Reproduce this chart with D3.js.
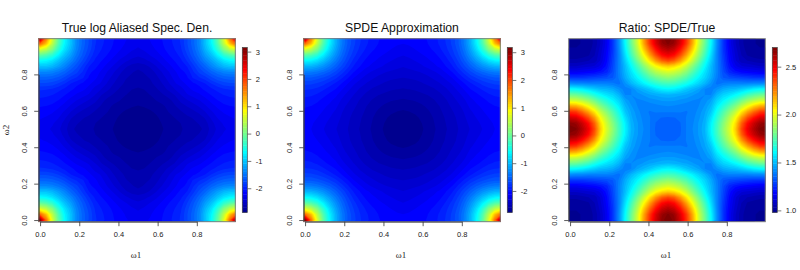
<!DOCTYPE html>
<html>
<head>
<meta charset="utf-8">
<script src="https://cdnjs.cloudflare.com/ajax/libs/d3/7.8.5/d3.min.js"></script>
<style>
body{margin:0;background:#fff;}
text{font-family:"Liberation Sans",Arial,sans-serif;fill:#222;}
.title{font-size:12.2px;fill:#111;}
.tick text{font-size:7.5px;}
.omega{font-size:9px;font-family:"Liberation Serif",serif;}
#chart>g{opacity:0.999;}
</style>
</head>
<body>
<svg id="chart" width="800" height="270"></svg>
<script>
//values at every 1/32 of the lower left quarter, rows go up in omega2
//the other three quarters of each panel are the same picture mirrored
var trueRows = [
[3.1,1.75,.65,-.1,-.65,-1.02,-1.38,-1.6,-1.76,-1.92,-2.0,-2.06,-2.12,-2.17,-2.21,-2.24,-2.26],
[1.75,1.2,.45,-.2,-.7,-1.02,-1.38,-1.6,-1.76,-1.93,-2.01,-2.07,-2.13,-2.18,-2.23,-2.26,-2.29],
[.65,.45,.1,-.4,-.82,-1.1,-1.42,-1.63,-1.79,-1.95,-2.03,-2.09,-2.15,-2.21,-2.26,-2.3,-2.33],
[-.1,-.2,-.4,-.72,-1.02,-1.24,-1.5,-1.68,-1.85,-2.0,-2.07,-2.13,-2.2,-2.26,-2.31,-2.36,-2.39],
[-.65,-.7,-.82,-1.02,-1.22,-1.4,-1.6,-1.77,-1.93,-2.05,-2.12,-2.19,-2.26,-2.33,-2.39,-2.44,-2.46],
[-1.02,-1.02,-1.1,-1.24,-1.4,-1.58,-1.72,-1.88,-2.03,-2.1,-2.18,-2.26,-2.33,-2.41,-2.49,-2.54,-2.57],
[-1.38,-1.38,-1.42,-1.5,-1.6,-1.72,-1.82,-1.95,-2.1,-2.16,-2.24,-2.32,-2.4,-2.48,-2.55,-2.59,-2.62],
[-1.6,-1.6,-1.63,-1.68,-1.77,-1.88,-1.95,-2.02,-2.14,-2.2,-2.28,-2.37,-2.45,-2.53,-2.59,-2.62,-2.65],
[-1.76,-1.76,-1.79,-1.85,-1.93,-2.03,-2.1,-2.14,-2.2,-2.26,-2.33,-2.42,-2.5,-2.56,-2.62,-2.65,-2.67],
[-1.92,-1.93,-1.95,-2.0,-2.05,-2.1,-2.16,-2.2,-2.26,-2.36,-2.41,-2.48,-2.55,-2.61,-2.66,-2.69,-2.7],
[-2.0,-2.01,-2.03,-2.07,-2.12,-2.18,-2.24,-2.28,-2.33,-2.41,-2.5,-2.56,-2.61,-2.65,-2.69,-2.72,-2.73],
[-2.06,-2.07,-2.09,-2.13,-2.19,-2.26,-2.32,-2.37,-2.42,-2.48,-2.56,-2.63,-2.66,-2.69,-2.73,-2.75,-2.76],
[-2.12,-2.13,-2.15,-2.2,-2.26,-2.33,-2.4,-2.45,-2.5,-2.55,-2.61,-2.66,-2.71,-2.73,-2.76,-2.78,-2.79],
[-2.17,-2.18,-2.21,-2.26,-2.33,-2.41,-2.48,-2.53,-2.56,-2.61,-2.65,-2.69,-2.73,-2.77,-2.8,-2.81,-2.82],
[-2.21,-2.23,-2.26,-2.31,-2.39,-2.49,-2.55,-2.59,-2.62,-2.66,-2.69,-2.73,-2.76,-2.8,-2.83,-2.84,-2.85],
[-2.24,-2.26,-2.3,-2.36,-2.44,-2.54,-2.59,-2.62,-2.65,-2.69,-2.72,-2.75,-2.78,-2.81,-2.84,-2.86,-2.87],
[-2.26,-2.29,-2.33,-2.39,-2.46,-2.57,-2.62,-2.65,-2.67,-2.7,-2.73,-2.76,-2.79,-2.82,-2.85,-2.87,-2.88]
];
var spdeRows = [
[3.15,1.75,.7,-.05,-.6,-1.02,-1.35,-1.58,-1.72,-1.83,-1.91,-1.97,-2.02,-2.05,-2.08,-2.09,-2.1],
[1.75,1.25,.5,-.15,-.65,-1.04,-1.36,-1.58,-1.73,-1.84,-1.92,-1.98,-2.03,-2.06,-2.09,-2.11,-2.12],
[.7,.5,.15,-.35,-.78,-1.12,-1.41,-1.62,-1.76,-1.87,-1.95,-2.01,-2.06,-2.09,-2.12,-2.14,-2.16],
[-.05,-.15,-.35,-.67,-.97,-1.24,-1.48,-1.67,-1.81,-1.92,-2.0,-2.06,-2.1,-2.13,-2.16,-2.19,-2.21],
[-.6,-.65,-.78,-.97,-1.17,-1.38,-1.57,-1.74,-1.88,-1.98,-2.05,-2.1,-2.14,-2.18,-2.21,-2.24,-2.26],
[-1.02,-1.04,-1.12,-1.24,-1.38,-1.53,-1.68,-1.82,-1.95,-2.03,-2.1,-2.15,-2.19,-2.23,-2.26,-2.28,-2.3],
[-1.35,-1.36,-1.41,-1.48,-1.57,-1.68,-1.8,-1.92,-2.03,-2.11,-2.18,-2.23,-2.27,-2.3,-2.32,-2.34,-2.35],
[-1.58,-1.58,-1.62,-1.67,-1.74,-1.82,-1.92,-2.02,-2.12,-2.19,-2.25,-2.29,-2.33,-2.36,-2.38,-2.39,-2.4],
[-1.72,-1.73,-1.76,-1.81,-1.88,-1.95,-2.03,-2.12,-2.2,-2.26,-2.31,-2.35,-2.38,-2.41,-2.43,-2.44,-2.45],
[-1.83,-1.84,-1.87,-1.92,-1.98,-2.03,-2.11,-2.19,-2.26,-2.32,-2.37,-2.41,-2.44,-2.46,-2.48,-2.49,-2.5],
[-1.91,-1.92,-1.95,-2.0,-2.05,-2.1,-2.18,-2.25,-2.31,-2.37,-2.42,-2.46,-2.49,-2.51,-2.53,-2.54,-2.55],
[-1.97,-1.98,-2.01,-2.06,-2.1,-2.15,-2.23,-2.29,-2.35,-2.41,-2.46,-2.5,-2.53,-2.56,-2.58,-2.59,-2.6],
[-2.02,-2.03,-2.06,-2.1,-2.14,-2.19,-2.27,-2.33,-2.38,-2.44,-2.49,-2.53,-2.57,-2.6,-2.62,-2.64,-2.65],
[-2.05,-2.06,-2.09,-2.13,-2.18,-2.23,-2.3,-2.36,-2.41,-2.46,-2.51,-2.56,-2.6,-2.64,-2.66,-2.68,-2.69],
[-2.08,-2.09,-2.12,-2.16,-2.21,-2.26,-2.32,-2.38,-2.43,-2.48,-2.53,-2.58,-2.62,-2.66,-2.7,-2.72,-2.73],
[-2.09,-2.11,-2.14,-2.19,-2.24,-2.28,-2.34,-2.39,-2.44,-2.49,-2.54,-2.59,-2.64,-2.68,-2.72,-2.75,-2.76],
[-2.1,-2.12,-2.16,-2.21,-2.26,-2.3,-2.35,-2.4,-2.45,-2.5,-2.55,-2.6,-2.65,-2.69,-2.73,-2.76,-2.77]
];
var ratioRows = [
[1.0,1.0,1.01,1.02,1.04,1.09,1.16,1.27,1.42,1.62,1.8,1.97,2.2,2.4,2.55,2.66,2.7],
[1.0,1.0,1.01,1.02,1.04,1.09,1.16,1.27,1.42,1.61,1.79,1.96,2.18,2.38,2.53,2.64,2.68],
[1.01,1.01,1.01,1.02,1.05,1.1,1.17,1.27,1.41,1.59,1.76,1.92,2.12,2.3,2.45,2.56,2.6],
[1.02,1.02,1.02,1.03,1.06,1.11,1.18,1.28,1.4,1.56,1.72,1.87,2.03,2.2,2.35,2.46,2.5],
[1.04,1.04,1.05,1.06,1.07,1.12,1.19,1.29,1.4,1.53,1.66,1.8,1.94,2.08,2.21,2.31,2.35],
[1.09,1.09,1.1,1.11,1.12,1.15,1.21,1.3,1.4,1.5,1.61,1.72,1.83,1.94,2.03,2.09,2.12],
[1.16,1.16,1.17,1.18,1.19,1.21,1.24,1.31,1.4,1.49,1.57,1.66,1.75,1.84,1.91,1.95,1.97],
[1.27,1.27,1.27,1.28,1.29,1.3,1.31,1.33,1.39,1.47,1.54,1.6,1.67,1.74,1.79,1.83,1.85],
[1.42,1.41,1.41,1.4,1.4,1.4,1.4,1.39,1.37,1.43,1.49,1.54,1.59,1.64,1.68,1.71,1.72],
[1.62,1.61,1.59,1.56,1.53,1.5,1.49,1.47,1.43,1.395,1.41,1.46,1.49,1.52,1.56,1.59,1.6],
[1.8,1.79,1.76,1.72,1.66,1.61,1.57,1.54,1.49,1.41,1.41,1.42,1.44,1.46,1.47,1.48,1.49],
[1.97,1.96,1.92,1.87,1.8,1.72,1.66,1.6,1.54,1.46,1.42,1.405,1.41,1.42,1.43,1.44,1.44],
[2.2,2.18,2.12,2.03,1.94,1.83,1.75,1.67,1.59,1.49,1.44,1.41,1.39,1.395,1.4,1.405,1.41],
[2.4,2.38,2.3,2.2,2.08,1.94,1.84,1.74,1.64,1.52,1.46,1.42,1.395,1.38,1.385,1.385,1.385],
[2.55,2.53,2.45,2.35,2.21,2.03,1.91,1.79,1.68,1.56,1.47,1.43,1.4,1.385,1.362,1.355,1.352],
[2.66,2.64,2.56,2.46,2.31,2.09,1.95,1.83,1.71,1.59,1.48,1.44,1.405,1.385,1.355,1.345,1.34],
[2.7,2.68,2.6,2.5,2.35,2.12,1.97,1.85,1.72,1.6,1.49,1.44,1.41,1.385,1.352,1.34,1.33]
];

var panelTitles = ["True log Aliased Spec. Den.","SPDE Approximation","Ratio: SPDE/True"];
var panelRanges = [[-2.88,3.15],[-2.77,3.17],[0.98,2.70]];
var omegaTicks = [0,0.2,0.4,0.6,0.8];
var logTicks = [-2,-1,0,1,2,3];
var ratioTicks = [1.0,1.5,2.0,2.5];

var timColors = ["#00008F","#00009F","#0000AF","#0000BF","#0000CF","#0000DF","#0000EF","#0000FF",
"#0010FF","#0020FF","#0030FF","#0040FF","#0050FF","#0060FF","#0070FF","#0080FF",
"#008FFF","#009FFF","#00AFFF","#00BFFF","#00CFFF","#00DFFF","#00EFFF","#00FFFF",
"#10FFEF","#20FFDF","#30FFCF","#40FFBF","#50FFAF","#60FF9F","#70FF8F","#80FF80",
"#8FFF70","#9FFF60","#AFFF50","#BFFF40","#CFFF30","#DFFF20","#EFFF10","#FFFF00",
"#FFEF00","#FFDF00","#FFCF00","#FFBF00","#FFAF00","#FF9F00","#FF8F00","#FF8000",
"#FF7000","#FF6000","#FF5000","#FF4000","#FF3000","#FF2000","#FF1000","#FF0000",
"#EF0000","#DF0000","#CF0000","#BF0000","#AF0000","#9F0000","#8F0000","#800000"];

//turns a quarter into the whole square, returned flat with omega2 going up
var mirrorRows = function(rows)
{
    var whole = rows.concat(rows.slice(0,-1).reverse());
    var flat = [];
    whole.forEach(function(row)
    {
        row.concat(row.slice(0,-1).reverse()).forEach(function(v){flat.push(v);});
    });
    return flat;
}

var drawImage = function(target,id,rows,range,xScale,yScale)
{
    var size = rows.length*2-1;
    var values = mirrorRows(rows);
    var step = (range[1]-range[0])/timColors.length;
    var levels = timColors.map(function(c,i){return range[0]+i*step;});
    levels[0] = d3.min(values)-1;

    var contours = d3.contours().size([size,size]).thresholds(levels)(values);

    //contour coordinates are in grid cells, value i sits at i+0.5
    var path = d3.geoPath(d3.geoTransform({point:function(x,y)
    {
        this.stream.point(xScale((x-0.5)/(size-1)),yScale((y-0.5)/(size-1)));
    }}));

    target.append("clipPath").attr("id",id)
        .append("rect")
        .attr("x",xScale.range()[0])
        .attr("y",yScale.range()[1])
        .attr("width",xScale.range()[1]-xScale.range()[0])
        .attr("height",yScale.range()[0]-yScale.range()[1]);

    target.append("g")
        .attr("clip-path","url(#"+id+")")
        .selectAll("path")
        .data(contours)
        .enter()
        .append("path")
        .attr("d",path)
        .attr("fill",function(d,i){return timColors[i];});

    target.append("rect")
        .attr("x",xScale.range()[0])
        .attr("y",yScale.range()[1])
        .attr("width",xScale.range()[1]-xScale.range()[0])
        .attr("height",yScale.range()[0]-yScale.range()[1])
        .attr("fill","none")
        .attr("stroke","#808080")
        .attr("stroke-width",1);
}

var styleAxis = function(g)
{
    g.selectAll("path").attr("stroke","#333").attr("stroke-width",0.8);
    g.selectAll("line").attr("stroke","#333").attr("stroke-width",0.8);
}

var drawAxes = function(target,xScale,yScale,showY)
{
    //R only runs the axis line between the first and the last tick
    var xAxisScale = d3.scaleLinear().domain([0,0.8]).range([xScale(0),xScale(0.8)]);
    var yAxisScale = d3.scaleLinear().domain([0,0.8]).range([yScale(0),yScale(0.8)]);

    target.append("g")
        .attr("transform","translate(0,"+yScale.range()[0]+")")
        .call(d3.axisBottom(xAxisScale).tickValues(omegaTicks)
            .tickFormat(d3.format(".1f")).tickSize(4.5).tickSizeOuter(0).tickPadding(5))
        .call(styleAxis);

    var yAxis = target.append("g")
        .attr("transform","translate("+xScale.range()[0]+",0)")
        .call(d3.axisLeft(yAxisScale).tickValues(omegaTicks)
            .tickFormat(d3.format(".1f")).tickSize(4.5).tickSizeOuter(0).tickPadding(5))
        .call(styleAxis);

    yAxis.selectAll(".tick text")
        .attr("transform","rotate(-90)")
        .attr("text-anchor","middle")
        .attr("x",0)
        .attr("y",-12)
        .attr("dy",0);

    target.append("text")
        .classed("omega",true)
        .attr("text-anchor","middle")
        .attr("x",(xScale.range()[0]+xScale.range()[1])/2-1)
        .attr("y",258)
        .text("\u03c91");

    if(showY)
    {
        target.append("g")
            .attr("transform","translate(9,130)")
            .append("text")
            .classed("omega",true)
            .attr("text-anchor","middle")
            .attr("transform","rotate(270)")
            .text("\u03c92");
    }
}

var drawLegend = function(target,range,ticks,format)
{
    var barScale = d3.scaleLinear().domain(range).range([212.3,47.5]);
    var step = (range[1]-range[0])/timColors.length;

    target.append("g")
        .selectAll("rect")
        .data(timColors)
        .enter()
        .append("rect")
        .attr("x",242.3)
        .attr("y",function(c,i){return barScale(range[0]+(i+1)*step);})
        .attr("width",5)
        .attr("height",function(c,i){return barScale(range[0]+i*step)-barScale(range[0]+(i+1)*step)+0.4;})
        .attr("fill",function(c){return c;});

    target.append("rect")
        .attr("x",242.3)
        .attr("y",47.5)
        .attr("width",5)
        .attr("height",164.8)
        .attr("fill","none")
        .attr("stroke","#444")
        .attr("stroke-width",0.7);

    target.append("g")
        .attr("transform","translate(247.3,0)")
        .call(d3.axisRight(barScale).tickValues(ticks).tickFormat(format).tickSize(4).tickSizeOuter(0).tickPadding(4.5))
        .call(function(g)
        {
            g.select(".domain").remove();
            g.selectAll("line").attr("stroke","#555").attr("stroke-width",0.8);
        });
}

var drawPanel = function(index,rows,ticks,format)
{
    var target = d3.select("#chart")
        .append("g")
        .attr("transform","translate("+(265*index)+",0)");

    var xScale = d3.scaleLinear().domain([-0.007,0.9964]).range([38.7,235.3]);
    var yScale = d3.scaleLinear().domain([-0.009,0.996]).range([221.7,38.7]);

    drawImage(target,"clip"+index,rows,panelRanges[index],xScale,yScale);
    drawAxes(target,xScale,yScale,index==0);
    drawLegend(target,panelRanges[index],ticks,format);

    target.append("text")
        .classed("title",true)
        .attr("text-anchor","middle")
        .attr("x",137)
        .attr("y",32)
        .text(panelTitles[index]);
}

//plain hyphen on the negative ticks, as in the picture
var intFormat = function(v){return String(v);}

drawPanel(0,trueRows,logTicks,intFormat);
drawPanel(1,spdeRows,logTicks,intFormat);
drawPanel(2,ratioRows,ratioTicks,d3.format(".1f"));
</script>
</body>
</html>
